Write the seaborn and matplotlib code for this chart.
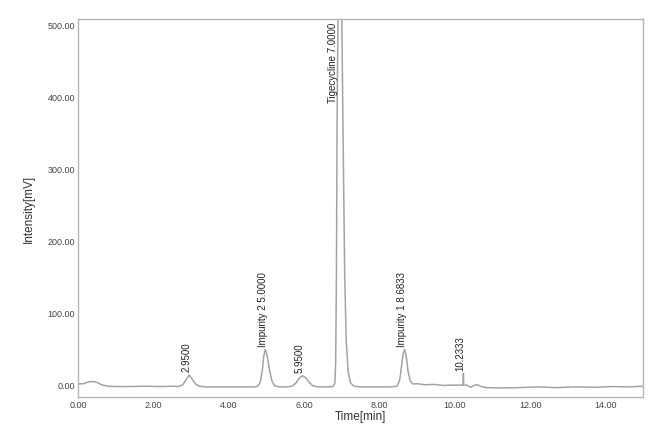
import numpy as np
import pandas as pd
import matplotlib
matplotlib.use("Agg")
import matplotlib.pyplot as plt
import seaborn as sns

# chromatogram trace (time in min, intensity in mV)
time = [0.00, 0.15, 0.28, 0.40, 0.52, 0.65, 0.80, 1.00, 1.40, 1.80, 2.20, 2.50,
        2.68, 2.78, 2.86, 2.95, 3.03, 3.12, 3.22, 3.40, 3.80, 4.30, 4.70,
        4.78, 4.84, 4.89, 4.93, 4.97, 5.02, 5.08, 5.15, 5.22, 5.35, 5.55,
        5.68, 5.78, 5.87, 5.95, 6.04, 6.13, 6.22, 6.35, 6.55, 6.78,
        6.82, 6.84, 6.86, 6.88, 6.92, 6.96, 7.00, 7.04, 7.08, 7.12, 7.17, 7.23, 7.32,
        7.50, 7.90, 8.30, 8.47, 8.54, 8.59, 8.63, 8.67, 8.71, 8.76, 8.82, 8.90,
        9.00, 9.20, 9.45, 9.70, 9.95, 10.15, 10.22, 10.23, 10.24, 10.32,
        10.42, 10.52, 10.60, 10.70, 10.85, 11.20, 11.70, 12.20, 12.70,
        13.20, 13.70, 14.20, 14.60, 15.00]
intensity = [0.0, 0.5, 3.0, 3.5, 2.0, -1.5, -3.0, -3.5, -3.5, -3.0, -3.5, -3.0,
             -3.5, -1.0, 5.0, 12.5, 7.0, 0.0, -3.0, -4.0, -4.0, -4.0, -4.0,
             -3.0, 3.0, 18.0, 38.0, 48.0, 40.0, 20.0, 4.0, -2.5, -4.0, -4.0,
             -3.0, 1.0, 8.0, 11.5, 9.0, 3.0, -2.0, -4.0, -4.0, -3.5,
             2.0, 30.0, 150.0, 390.0, 600.0, 640.0, 520.0, 330.0, 150.0, 60.0, 18.0, 2.0, -3.0,
             -4.0, -4.0, -4.0, -3.0, 6.0, 25.0, 42.0, 48.0, 40.0, 18.0, 4.0, 0.0,
             0.5, -1.0, -0.5, -2.0, -1.5, -1.5, -1.5, 15.0, -1.5, -1.5,
             -4.5, -2.0, -1.0, -3.5, -5.0, -5.5, -5.0, -4.0, -5.0,
             -4.0, -4.5, -3.5, -4.0, -3.0]

# peak annotations
peak_times = [2.95, 4.97, 5.95, 6.95, 8.67, 10.23]
peak_labels = ["2.9500", "Impurity 2 5.0000", "5.9500", "Tigecycline 7.0000",
               "Impurity 1 8.6833", "10.2333"]

df = pd.DataFrame({"Time": time, "Intensity": intensity})

sns.set_style("white")
plt.rcParams["font.family"] = ["Liberation Sans", "DejaVu Sans"]

fig = plt.figure(figsize=(6.63, 4.31), dpi=100)
ax = fig.add_axes([0.1176, 0.0766, 0.8524, 0.877])

sns.lineplot(data=df, x="Time", y="Intensity", color="#a3a3a3", linewidth=1.1, ax=ax)

ax.set_xlim(0, 15)
ax.set_ylim(-18, 507)
ax.set_xticks(np.arange(0, 15, 2))
ax.set_xticklabels([f"{v:.2f}" for v in np.arange(0, 15, 2)])
ax.set_yticks(np.arange(0, 501, 100))
ax.set_yticklabels([f"{v:.2f}" for v in np.arange(0, 501, 100)])
ax.tick_params(length=0, labelsize=6.5, labelcolor="#444444", pad=2)
ax.set_xlabel("Time[min]", fontsize=8.5, color="#333333", labelpad=1)
ax.set_ylabel("Intensity[mV]", fontsize=8.5, color="#333333", labelpad=9)
for s in ax.spines.values():
    s.set_color("#b5b5b5")
    s.set_linewidth(1.0)

for t, lab in zip(peak_times, peak_labels):
    if lab.startswith("Tigecycline"):
        ax.text(t - 0.18, 503, lab, rotation=90, ha="center", va="top",
                fontsize=7, color="#222222")
    else:
        near = df[(df.Time > t - 0.1) & (df.Time < t + 0.1)].Intensity.max()
        ax.text(t - 0.07, near + 5, lab, rotation=90, ha="center", va="bottom",
                fontsize=7, color="#222222")

fig.savefig("out.png", dpi=100)
